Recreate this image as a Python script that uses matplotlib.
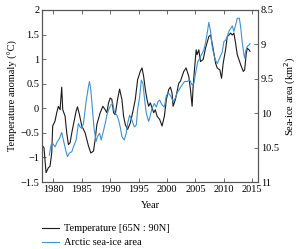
import numpy as np
import matplotlib
matplotlib.use("Agg")
import matplotlib.pyplot as plt

plt.rcParams['font.family'] = ['Liberation Serif', 'DejaVu Serif']
plt.rcParams['axes.unicode_minus'] = True

# Temperature anomaly [65N:90N] (degC)
temp_year = [1978.12, 1978.35, 1978.71, 1979.12, 1979.41, 1979.71, 1979.88, 1980.29, 1980.59, 1980.88,
             1981.18, 1981.47, 1981.65, 1982.06, 1982.35, 1982.65, 1982.94, 1983.24, 1983.53, 1984.00,
             1984.24, 1984.59, 1985.00, 1985.59, 1986.18, 1986.59, 1987.06, 1987.35, 1987.65, 1988.24,
             1988.71, 1989.12, 1989.41, 1989.71, 1990.00, 1990.29, 1990.59, 1990.88, 1991.29, 1991.65,
             1992.06, 1992.35, 1992.65, 1993.06, 1993.53, 1994.00, 1994.41, 1994.82, 1995.29, 1995.59,
             1995.88, 1996.18, 1996.47, 1996.76, 1997.06, 1997.65, 1997.94, 1998.24, 1998.71, 1999.12,
             1999.53, 1999.88, 2000.29, 2000.59, 2000.88, 2001.06, 2001.47, 2001.76, 2002.06, 2002.35,
             2002.94, 2003.35, 2003.82, 2004.12, 2004.41, 2004.59, 2004.82, 2005.12, 2005.29, 2005.59,
             2005.88, 2006.35, 2006.76, 2007.35, 2007.65, 2007.94, 2008.24, 2008.53, 2008.82, 2009.29,
             2009.59, 2009.88, 2010.29, 2010.59, 2010.88, 2011.18, 2011.47, 2011.76, 2012.06, 2012.35,
             2012.65, 2012.94, 2013.41, 2013.65, 2013.94, 2014.12, 2014.41, 2014.59]
temp_val = [-0.77, -0.80, -1.31, -1.21, -1.18, -0.91, -0.36, -0.26, -0.09, 0.04,
            -0.03, 0.43, -0.03, -0.16, -0.50, -0.74, -0.70, -0.50, -0.33, -0.06,
            0.03, -0.13, -0.36, -0.50, -0.77, -0.91, -0.87, -0.64, -0.33, -0.09,
            0.04, -0.03, -0.09, 0.11, 0.21, 0.18, -0.09, -0.13, 0.18, 0.39,
            0.18, -0.16, -0.33, -0.43, -0.30, -0.06, 0.18, 0.58, 0.75, 0.82,
            0.65, 0.38, 0.18, 0.04, 0.11, -0.09, -0.03, -0.16, -0.23, -0.36,
            -0.16, 0.18, 0.38, 0.43, 0.31, 0.04, 0.18, 0.34, 0.51, 0.55,
            0.75, 0.82, 0.65, 0.38, 0.04, 0.45, 0.78, 1.19, 1.09, 1.19,
            0.95, 0.99, 1.22, 1.46, 1.49, 1.32, 1.12, 0.92, 0.82, 0.78,
            0.61, 0.92, 1.19, 1.46, 1.49, 1.53, 1.49, 1.53, 1.32, 1.09,
            0.99, 0.89, 0.75, 0.78, 1.12, 1.22, 1.19, 1.16]

# Arctic sea-ice area (million km2)
ice_year = [1979.29, 1979.59, 1979.88, 1980.29, 1980.71, 1981.06, 1981.47, 1981.76, 1982.24, 1982.47,
            1982.82, 1983.24, 1983.53, 1984.00, 1984.41, 1984.71, 1985.00, 1985.29, 1985.76, 1986.18,
            1986.35, 1986.59, 1986.88, 1987.18, 1987.53, 1987.76, 1988.12, 1988.41, 1988.71, 1989.12,
            1989.41, 1989.71, 1990.12, 1990.47, 1990.71, 1991.18, 1991.47, 1991.76, 1992.06, 1992.47,
            1992.82, 1993.06, 1993.41, 1993.82, 1994.24, 1994.59, 1994.82, 1995.18, 1995.47, 1995.76,
            1996.06, 1996.35, 1996.76, 1997.06, 1997.35, 1997.76, 1998.12, 1998.41, 1998.71, 1999.12,
            1999.53, 1999.88, 2000.29, 2000.71, 2001.06, 2001.47, 2001.76, 2002.24, 2002.65, 2003.06,
            2003.53, 2004.00, 2004.41, 2004.71, 2005.06, 2005.41, 2005.76, 2006.18, 2006.47, 2006.76,
            2007.06, 2007.35, 2007.65, 2007.94, 2008.24, 2008.53, 2008.82, 2009.24, 2009.71, 2010.00,
            2010.29, 2010.59, 2010.88, 2011.18, 2011.47, 2011.76, 2012.06, 2012.35, 2012.71, 2012.94,
            2013.24, 2013.53, 2013.65, 2013.88, 2014.12, 2014.41, 2014.59]
ice_val = [10.61, 10.46, 10.44, 10.49, 10.41, 10.37, 10.28, 10.39, 10.56, 10.63,
           10.58, 10.56, 10.49, 10.39, 10.15, 10.20, 10.22, 10.15, 9.83, 9.61,
           9.54, 9.66, 9.95, 10.24, 10.41, 10.34, 10.29, 10.39, 10.29, 10.15,
           10.03, 9.95, 9.88, 9.86, 9.98, 10.03, 10.10, 10.20, 10.34, 10.39,
           10.29, 10.15, 10.03, 10.10, 10.20, 10.17, 9.95, 9.76, 9.52, 9.57,
           9.81, 10.00, 10.12, 10.03, 9.93, 9.86, 9.91, 9.83, 9.81, 9.88,
           9.91, 9.74, 9.71, 9.76, 9.83, 9.78, 9.71, 9.64, 9.59, 9.54,
           9.54, 9.52, 9.59, 9.57, 9.40, 9.25, 9.20, 9.13, 9.08, 8.98,
           8.84, 8.68, 8.81, 9.03, 9.15, 9.23, 9.28, 9.20, 9.11, 8.96,
           8.94, 8.89, 8.81, 8.77, 8.73, 8.81, 8.72, 8.62, 8.62, 8.74,
           8.98, 9.15, 9.20, 9.08, 9.03, 9.01, 8.99]

x_ticks = [1980, 1985, 1990, 1995, 2000, 2005, 2010, 2015]
left_ticks = [-1.5, -1, -0.5, 0, 0.5, 1, 1.5, 2]
right_ticks = [8.5, 9, 9.5, 10, 10.5, 11]

fs = 7.5
fig = plt.figure(figsize=(3.0, 2.49), dpi=100)
ax = fig.add_axes([0.14, 0.269, 0.72, 0.691])
ax2 = ax.twinx()

l1, = ax.plot(temp_year, temp_val, color='#1a1a1a', lw=0.8)
l2, = ax2.plot(ice_year, ice_val, color='#3d92d0', lw=0.8)

ax.set_xlim(1978, 2016)
ax.set_ylim(-1.5, 2)
ax2.set_ylim(11, 8.5)
ax.set_xticks(x_ticks)
ax.set_yticks(left_ticks)
ax.set_yticklabels(['\u22121.5', '\u22121', '\u22120.5', '0', '0.5', '1', '1.5', '2'])
ax2.set_yticks(right_ticks)
ax2.set_yticklabels(['8.5', '9', '9.5', '10', '10.5', '11'])

for a in (ax, ax2):
    for s in a.spines.values():
        s.set_color('#555555')
        s.set_linewidth(0.8)
ax.tick_params(axis='x', direction='in', top=True, length=3, width=0.6, labelsize=fs, pad=2, color='#555555')
ax.tick_params(axis='y', direction='in', length=3, width=0.6, labelsize=fs, pad=2, color='#555555')
ax2.tick_params(axis='y', direction='in', length=3, width=0.6, labelsize=fs, pad=2, color='#555555')

ax.set_xlabel('Year', fontsize=fs, labelpad=5)
ax.set_ylabel('Temperature anomaly (\u00b0C)', fontsize=fs, labelpad=2)
ax2.set_ylabel('Sea-ice area (km$^2$)', fontsize=fs, labelpad=3)

fig.legend([l1, l2], ['Temperature [65N : 90N]', 'Arctic sea-ice area'],
           loc='upper left', bbox_to_anchor=(0.14, 0.10), frameon=False,
           fontsize=fs, handlelength=1.6, handletextpad=0.55, labelspacing=0.45,
           borderaxespad=0, borderpad=0)

fig.savefig('out.png', dpi=100)
